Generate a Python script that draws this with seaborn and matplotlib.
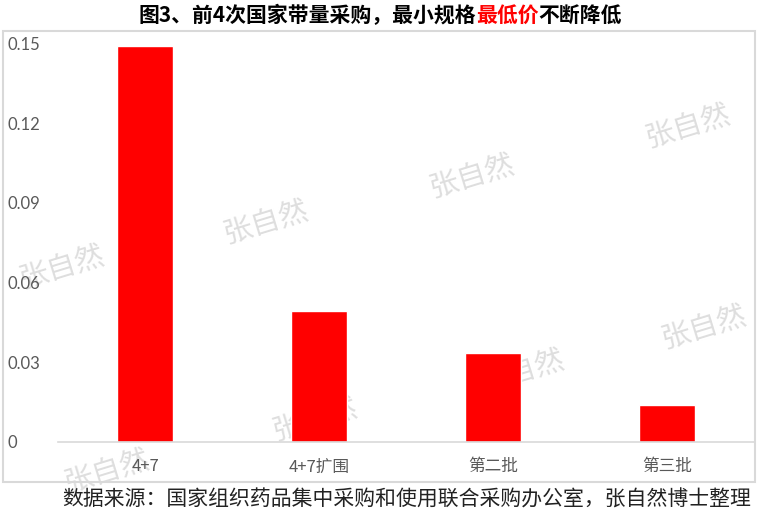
import matplotlib
matplotlib.use('Agg')
import matplotlib.pyplot as plt
import seaborn as sns
from matplotlib.patches import Rectangle

categories = ['4+7', '4+7扩围', '第二批', '第三批']
values = [0.149, 0.0493, 0.0334, 0.0137]
yticks = [0, 0.03, 0.06, 0.09, 0.12, 0.15]
ytick_labels = ['0', '0.03', '0.06', '0.09', '0.12', '0.15']
title_parts = ['图3、前4次国家带量采购，最小规格', '最低价', '不断降低']
title_colors = ['#000000', '#ff0000', '#000000']
source_text = '数据来源：国家组织药品集中采购和使用联合采购办公室，张自然博士整理'
watermark_text = '张自然'
# watermark layout (pixel centres)
wm_layout = [(688, 127), (472, 177), (266, 223), (62, 268),
             (704, 328), (522, 372), (315, 420), (107, 472)]

W, H = 760, 516
sns.set_theme(style='white')
plt.rcParams['font.family'] = ['Noto Sans CJK SC', 'DejaVu Sans']

fig = plt.figure(figsize=(W / 100, H / 100), dpi=100)
fig.patch.set_facecolor('white')
ax_left, ax_right, ax_top, ax_bottom = 58, 754, 43.3, 441.8
ax = fig.add_axes([ax_left / W, 1 - ax_bottom / H, (ax_right - ax_left) / W, (ax_bottom - ax_top) / H])
ax.patch.set_alpha(0)

sns.barplot(x=categories, y=values, color='#ff0000', saturation=1, width=0.32, ax=ax, zorder=2)

ax.set_xlim(-0.5, len(categories) - 0.5)
ax.set_ylim(0, 0.15)
ax.set_yticks(yticks)
ax.set_yticklabels(ytick_labels, family=['Lato', 'Noto Sans CJK SC'], fontsize=12, color='#595959')
ax.tick_params(axis='y', length=0, pad=36)
for lbl in ax.get_yticklabels():
    lbl.set_horizontalalignment('left')
ax.set_xticks(range(len(categories)))
ax.set_xticklabels(categories, fontsize=12, color='#595959')
ax.tick_params(axis='x', length=0, pad=12)
ax.set_xlabel('')
ax.set_ylabel('')
for s in ['top', 'right', 'left']:
    ax.spines[s].set_visible(False)
ax.spines['bottom'].set_color('#d9d9d9')
ax.spines['bottom'].set_linewidth(1.2)
ax.grid(False)

# watermarks behind bars
for (px, py) in wm_layout:
    ax.text(px / W, 1 - py / H, watermark_text, transform=fig.transFigure, fontsize=21,
            color='#dedede', rotation=17, ha='center', va='center', zorder=0.5, clip_on=False)

# chart frame
fig.patches.append(Rectangle((3 / W, 1 - 482 / H), 752 / W, 451 / H, transform=fig.transFigure,
                             fill=False, edgecolor='#d9d9d9', linewidth=1.5))

# multi-colour title
renderer = fig.canvas.get_renderer()
texts = []
for part, col in zip(title_parts, title_colors):
    t = fig.text(0, 1 - 15 / H, part, fontsize=15, fontweight='bold', color=col, ha='left', va='center')
    texts.append(t)
widths = [t.get_window_extent(renderer).width for t in texts]
x = (W - sum(widths)) / 2
for t, w in zip(texts, widths):
    t.set_x(x / W)
    x += w

fig.text(407 / W, 1 - 500 / H, source_text, fontsize=15, color='#222222', ha='center', va='center')

fig.savefig('out.png', dpi=100)
